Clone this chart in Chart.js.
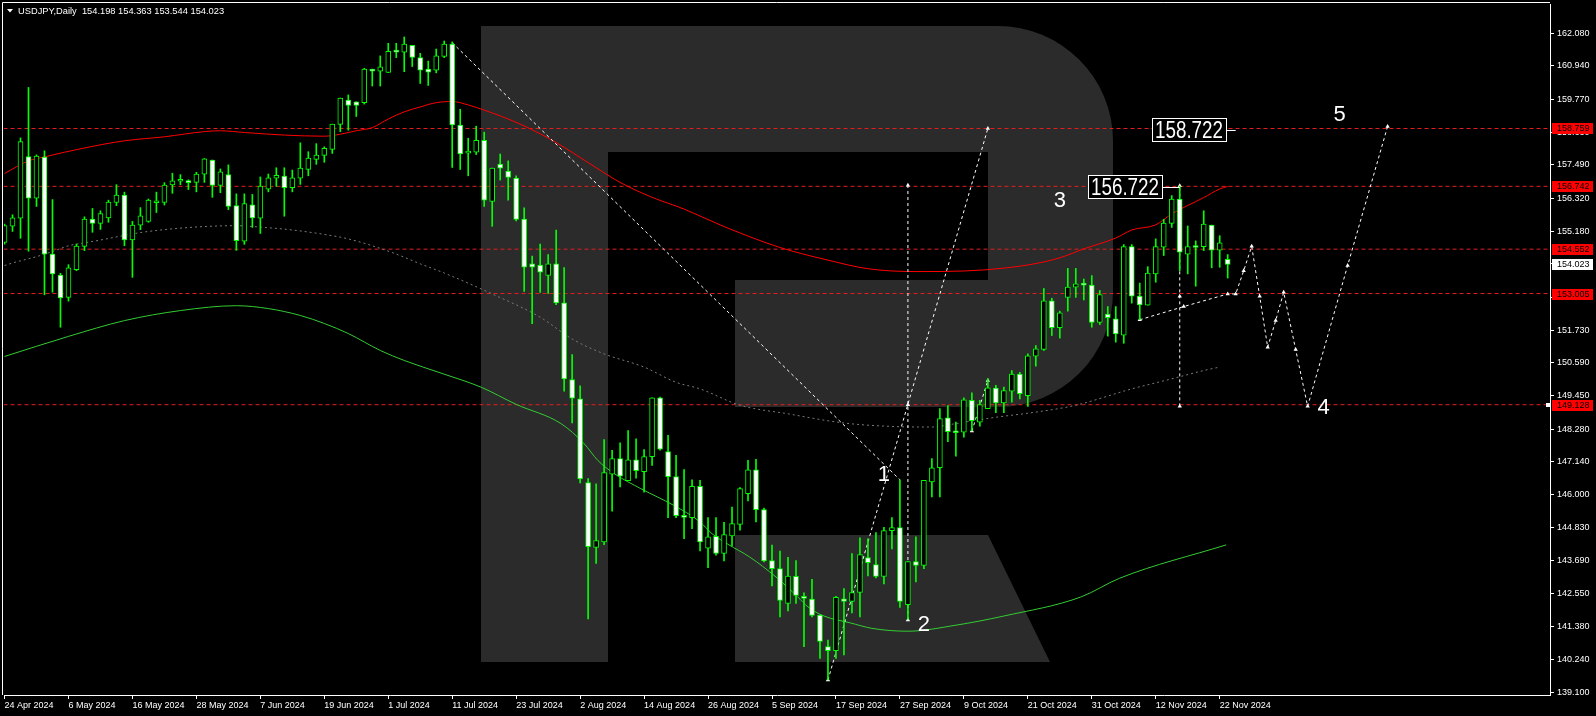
<!DOCTYPE html>
<html>
<head>
<meta charset="utf-8">
<script src="https://cdn.jsdelivr.net/npm/chart.js@4.4.1/dist/chart.umd.min.js"></script>
<style>
html, body { margin: 0; padding: 0; background: #000; overflow: hidden; }
canvas { display: block; }
</style>
</head>
<body>
<canvas id="chart" width="1596" height="716"></canvas>
<script>
// USDJPY daily candles, 24 Apr 2024 .. 25 Nov 2024 (bar index = position)
const opens = [
  154.79, 155.35, 155.63, 157.78, 156.33, 157.76, 154.38, 153.65, 152.87, 153.84,
  154.65, 155.60, 155.45, 155.64, 156.18, 156.44, 154.87, 155.39, 155.52, 156.17,
  156.18, 156.79, 156.92, 156.90, 156.88, 157.17, 157.66, 156.77, 157.15, 156.07,
  154.83, 156.10, 155.63, 156.64, 157.03, 157.10, 156.70, 157.03, 157.33, 157.68,
  157.82, 158.03, 158.90, 159.75, 159.69, 159.66, 160.83, 160.76, 160.71, 161.45,
  161.42, 161.66, 161.23, 160.83, 160.79, 161.27, 161.70, 158.88, 157.90, 157.93,
  158.35, 156.22, 157.52, 157.27, 157.03, 155.60, 154.04, 154.00, 153.64, 154.04,
  152.68, 150.00, 149.33, 146.41, 144.15, 144.34, 146.71, 147.25, 146.48, 147.21,
  146.79, 147.32, 149.37, 147.49, 146.62, 145.26, 145.19, 146.28, 144.13, 144.54,
  143.94, 144.55, 144.95, 146.03, 146.86, 145.47, 143.69, 143.41, 142.20, 143.14,
  142.45, 142.35, 141.79, 140.69, 140.55, 142.36, 142.27, 142.58, 143.80, 143.55,
  143.14, 144.74, 144.84, 142.16, 143.66, 143.52, 146.44, 146.93, 148.67, 148.19,
  148.17, 149.28, 148.52, 148.99, 149.71, 149.19, 149.60, 150.20, 149.44, 150.82,
  151.06, 152.75, 151.81, 152.87, 153.23, 153.33, 153.30, 152.00, 152.29, 152.12,
  151.55, 154.64, 152.92, 152.60, 153.69, 154.62, 155.45, 156.30, 154.38, 154.64,
  154.64, 155.39, 154.52, 154.198
];
const highs = [
  155.43, 155.75, 158.43, 160.19, 157.84, 157.98, 156.28, 153.71, 154.01, 154.73,
  155.68, 155.97, 155.89, 156.26, 156.80, 156.54, 155.52, 156.00, 156.30, 156.54,
  156.87, 157.20, 157.15, 156.97, 157.23, 157.71, 157.66, 157.35, 157.49, 156.48,
  156.48, 156.46, 157.07, 157.17, 157.39, 157.39, 157.31, 158.26, 157.95, 158.23,
  158.12, 158.91, 159.82, 159.93, 159.69, 160.86, 160.83, 161.29, 161.73, 161.73,
  161.95, 161.66, 161.38, 161.11, 161.53, 161.81, 161.78, 159.43, 158.42, 158.84,
  158.63, 157.38, 157.87, 157.63, 157.11, 155.99, 154.31, 154.73, 154.36, 155.22,
  153.91, 150.88, 149.79, 146.55, 146.37, 147.91, 147.54, 147.80, 148.23, 147.94,
  147.56, 149.37, 149.39, 148.06, 147.36, 146.87, 146.51, 146.49, 145.19, 145.19,
  145.03, 145.56, 146.24, 147.19, 147.22, 145.52, 144.23, 144.02, 143.81, 143.69,
  142.57, 143.04, 141.79, 140.92, 142.45, 142.72, 143.94, 144.49, 144.45, 144.67,
  144.85, 145.19, 146.51, 143.66, 144.52, 146.49, 147.25, 148.99, 149.10, 148.52,
  149.37, 149.54, 149.28, 150.03, 149.80, 149.74, 150.32, 150.26, 150.90, 151.19,
  153.18, 152.84, 152.39, 153.88, 153.88, 153.51, 153.63, 153.11, 152.55, 152.55,
  154.71, 154.71, 153.37, 153.94, 154.91, 155.59, 156.42, 156.75, 155.36, 154.84,
  155.89, 155.39, 155.02, 154.363
];
const lows = [
  154.73, 155.17, 154.93, 154.48, 156.04, 152.96, 153.05, 151.83, 152.74, 153.80,
  154.50, 155.14, 155.24, 155.49, 156.07, 154.67, 153.57, 155.23, 155.49, 155.83,
  156.09, 156.50, 156.80, 156.63, 156.55, 156.88, 156.36, 156.52, 155.93, 154.51,
  154.72, 155.31, 155.10, 156.55, 156.74, 155.70, 156.55, 156.81, 157.11, 157.51,
  157.58, 157.89, 158.65, 158.70, 159.18, 159.61, 160.24, 160.24, 160.71, 161.23,
  160.74, 160.92, 160.33, 160.26, 160.70, 161.23, 157.40, 157.33, 157.11, 157.85,
  156.04, 155.35, 156.96, 156.26, 155.54, 153.08, 151.95, 153.04, 153.01, 152.62,
  149.60, 148.49, 146.40, 141.66, 143.59, 144.25, 145.42, 146.26, 146.48, 146.57,
  146.08, 147.01, 147.54, 145.19, 145.19, 144.46, 144.81, 144.03, 143.45, 143.88,
  143.68, 144.20, 144.75, 145.77, 145.04, 143.65, 142.81, 141.73, 141.94, 142.20,
  140.69, 141.73, 140.28, 139.53, 140.28, 140.40, 141.87, 141.73, 143.16, 143.09,
  142.88, 144.10, 142.06, 141.65, 142.95, 143.41, 145.91, 145.91, 147.84, 147.33,
  148.00, 148.21, 148.38, 148.99, 148.85, 148.85, 149.22, 149.33, 149.07, 150.47,
  151.02, 151.54, 151.45, 152.39, 152.87, 152.78, 151.83, 151.92, 151.52, 151.31,
  151.27, 152.67, 152.09, 152.60, 153.40, 154.33, 155.31, 153.80, 153.69, 153.26,
  154.50, 153.90, 153.92, 153.544
];
const closes = [
  155.37, 155.64, 158.30, 156.33, 157.80, 154.38, 153.69, 152.85, 153.90, 154.66,
  155.60, 155.45, 155.79, 156.19, 156.44, 154.87, 155.39, 155.71, 156.26, 156.23,
  156.79, 156.93, 156.96, 156.87, 157.17, 157.70, 156.77, 157.25, 156.04, 154.85,
  156.14, 155.64, 156.75, 157.04, 157.13, 156.70, 157.04, 157.38, 157.73, 157.83,
  158.07, 158.91, 159.82, 159.56, 159.56, 160.83, 160.76, 160.91, 161.45, 161.42,
  161.70, 161.24, 160.79, 160.72, 161.29, 161.70, 158.88, 157.87, 157.95, 158.35,
  156.26, 157.38, 157.38, 157.05, 155.59, 153.92, 153.92, 153.75, 154.04, 152.68,
  150.03, 149.36, 146.54, 144.18, 144.39, 146.76, 147.25, 146.64, 147.21, 146.83,
  147.32, 149.37, 147.58, 146.62, 145.26, 145.20, 146.28, 144.34, 144.52, 143.94,
  144.60, 144.98, 146.20, 146.86, 145.47, 143.68, 143.41, 142.30, 143.15, 142.48,
  142.37, 141.78, 140.87, 140.55, 142.41, 142.27, 142.58, 143.90, 143.62, 143.14,
  144.74, 144.84, 142.27, 143.66, 143.52, 146.49, 146.93, 148.64, 148.19, 148.15,
  149.30, 148.57, 149.13, 149.72, 149.19, 149.62, 150.20, 149.51, 150.83, 151.08,
  152.75, 151.81, 152.33, 153.23, 153.34, 153.30, 152.00, 152.97, 152.16, 151.60,
  154.64, 152.91, 152.61, 153.72, 154.64, 155.46, 156.30, 154.45, 154.64, 154.61,
  155.43, 154.52, 154.77, 154.023
];

// time axis: a label every 8 bars
const dateTicks = [
  '24 Apr 2024', '6 May 2024', '16 May 2024', '28 May 2024', '7 Jun 2024',
  '19 Jun 2024', '1 Jul 2024', '11 Jul 2024', '23 Jul 2024', '2 Aug 2024',
  '14 Aug 2024', '26 Aug 2024', '5 Sep 2024', '17 Sep 2024', '27 Sep 2024',
  '9 Oct 2024', '21 Oct 2024', '31 Oct 2024', '12 Nov 2024', '22 Nov 2024'
];
const tickStep = 8;
const priceTicks = [
  139.100, 140.240, 141.380, 142.550, 143.690, 144.830, 146.000, 147.140, 148.280,
  149.450, 150.590, 151.730, 152.870, 154.040, 155.180, 156.320, 157.490, 158.630,
  159.770, 160.940, 162.080
];
const levels = [158.759, 156.742, 154.552, 153.005, 149.128];
const lastPrice = 154.023;

// moving averages, [bar, price]
const maRed = [
  [0,157.19],[3,157.63],[5,157.77],[10,158.08],[15,158.33],[20,158.47],[25,158.65],[27,158.68],
  [30,158.62],[35,158.53],[40,158.49],[42,158.56],[44,158.68],[46,158.79],[48,159.09],[50,159.34],
  [52,159.51],[54,159.66],[56,159.70],[58,159.58],[60,159.40],[62,159.20],[65,158.85],[69,158.27],
  [73,157.57],[77,156.88],[81,156.36],[85,155.95],[90,155.34],[97,154.61],[103,154.17],[108,153.87],
  [114,153.77],[120,153.79],[125,153.89],[129,154.05],[132,154.25],[135,154.56],[139,154.94],
  [141,155.22],[144,155.40],[146,155.78],[150,156.35],[152,156.65],[153,156.74]
];
const maGray = [
  [0,153.98],[1,154.07],[4,154.29],[6,154.47],[8,154.67],[10,154.77],[12,154.87],[17,155.13],
  [21,155.26],[25,155.34],[29,155.37],[32,155.32],[36,155.22],[41,155.02],[43,154.91],[46,154.67],
  [49,154.38],[52,154.04],[55,153.72],[61,152.99],[67,152.18],[71,151.42],[75,150.90],[80,150.44],
  [84,149.91],[87,149.68],[92,149.11],[98,148.81],[105,148.49],[111,148.37],[116,148.35],
  [119,148.47],[124,148.69],[129,148.87],[134,149.11],[141,149.68],[146,150.03],[150,150.32],
  [152,150.44]
];
const maGreen = [
  [0,150.81],[8,151.51],[15,152.06],[22,152.41],[29,152.58],[33,152.48],[37,152.24],[40,151.96],
  [43,151.61],[47,151.02],[50,150.67],[54.6,150.23],[59.6,149.74],[64,149.14],[69.6,148.47],
  [72.5,147.77],[74.2,147.19],[76.3,146.72],[79.6,146.20],[83.7,145.62],[87,145.04],[88.5,144.63],
  [90.5,144.26],[93.2,143.82],[96.5,143.12],[99.2,142.43],[100.5,142.08],[102.5,141.76],
  [105.8,141.52],[108.5,141.33],[113,141.23],[119,141.44],[125,141.76],[134.6,142.42],
  [139.5,143.08],[152.8,144.24]
];

// hand drawn wave lines, [bar, price]
const waveDown = [[56,161.75],[112,146.51]];
const waveUp = [[103,139.53],[123,158.76]];
const waveProj1 = [[113,141.62],[113,149.13],[113,156.78]];
const waveSmall = [[121,148.21],[123,149.97]];
const waveProj2 = [[147,149.07],[147,152.91],[147,156.76]];
const waveForecast = [
  [142,152.09],[147.5,152.55],[153,152.99],[154,152.99],[155,153.80],[156,154.65],[157,152.91],
  [158,151.13],[159,152.06],[160,153.05],[161.5,151.05],[163,149.07],[168,153.98],[173,158.83]
];
const waveLabels = [['1',110,146.67],['2',115,141.44],['3',132,156.24],['4',165,149.02],['5',167,159.23]];
const targetBoxes = [[156.722,144.8,147],[158.722,152.8,154]];

const FONT = '"Liberation Sans", Arial, sans-serif';
const idx = opens.map((_, i) => i);

const pts = arr => arr.map(p => ({ x: p[0], y: p[1] }));
function lineSet(arr, color, dash, extra) {
  return Object.assign({
    type: 'line', data: pts(arr), borderColor: color, borderWidth: 1, borderDash: dash,
    pointRadius: 0, fill: false, tension: 0, order: 5
  }, extra || {});
}
function waveSet(arr, markers) {
  return lineSet(arr, '#ffffff', [3, 3], {
    order: 4, pointRadius: markers ? 2.5 : 0, pointStyle: 'triangle',
    pointBackgroundColor: '#ffffff', pointBorderColor: '#ffffff', pointBorderWidth: 0
  });
}
// keep the plot area where the terminal puts it: no extra room for edge labels
function noPad(s) {
  s.paddingLeft = 0; s.paddingRight = 0; s.paddingTop = 0; s.paddingBottom = 0;
}

const logo = {
  id: 'logo',
  beforeDraw(chart) {
    const c = chart.ctx;
    c.save();
    c.fillStyle = '#000';
    c.fillRect(0, 0, chart.width, chart.height);
    c.fillStyle = '#2b2b2b';
    c.fillRect(481, 26, 127, 636);
    c.beginPath();
    c.moveTo(608, 26);
    c.lineTo(998, 26);
    c.arcTo(1113, 26, 1113, 141, 115);
    c.lineTo(1113, 292);
    c.arcTo(1113, 407, 998, 407, 115);
    c.lineTo(735, 407);
    c.lineTo(735, 280);
    c.lineTo(988, 280);
    c.lineTo(988, 152);
    c.lineTo(608, 152);
    c.closePath();
    c.fill();
    c.beginPath();
    c.moveTo(735, 535);
    c.lineTo(988, 535);
    c.lineTo(1050, 662);
    c.lineTo(735, 662);
    c.closePath();
    c.fill();
    c.restore();
  }
};

const overlay = {
  id: 'overlay',
  afterDatasetsDraw(chart) {
    const c = chart.ctx, xs = chart.scales.x, ys = chart.scales.y;
    c.save();
    c.fillStyle = '#ffffff';
    c.textAlign = 'center';
    c.textBaseline = 'middle';
    c.font = '22px ' + FONT;
    waveLabels.forEach(([t, i, p]) => c.fillText(t, xs.getPixelForValue(i), ys.getPixelForValue(p)));

    c.font = '24px ' + FONT;
    targetBoxes.forEach(([p, iRight, iMark]) => {
      const y = Math.round(ys.getPixelForValue(p));
      const xr = Math.round(xs.getPixelForValue(iRight));
      const t = p.toFixed(3);
      const w = 74;
      c.fillStyle = '#000';
      c.fillRect(xr - w, y - 12, w, 24);
      c.strokeStyle = '#ffffff';
      c.lineWidth = 1;
      c.strokeRect(xr - w + 0.5, y - 11.5, w, 23);
      c.fillStyle = '#ffffff';
      c.save();
      c.translate(xr - 3, y + 1);
      c.scale(68 / c.measureText(t).width, 1);
      c.textAlign = 'right';
      c.fillText(t, 0, 0);
      c.restore();
      c.beginPath();
      c.moveTo(xr, y + 0.5);
      c.lineTo(xs.getPixelForValue(iMark), y + 0.5);
      c.stroke();
    });
    c.restore();
  },
  afterDraw(chart) {
    const c = chart.ctx, ys = chart.scales.y, a = chart.chartArea;
    c.save();
    c.strokeStyle = '#ffffff';
    c.lineWidth = 1;
    c.beginPath();
    c.moveTo(2.5, a.bottom);
    c.lineTo(2.5, 2.5);
    c.lineTo(a.right, 2.5);
    c.stroke();

    c.font = '9px ' + FONT;
    c.textAlign = 'left';
    c.textBaseline = 'middle';
    const tag = (p, bg) => {
      const y = Math.round(ys.getPixelForValue(p));
      c.fillStyle = bg;
      c.fillRect(a.right + 2, y - 5, 41, 11);
      c.fillStyle = '#000';
      c.fillText(p.toFixed(3), a.right + 7, y + 0.5);
    };
    levels.forEach(p => tag(p, '#ff0000'));
    tag(lastPrice, '#ffffff');
    c.fillStyle = '#ffffff';
    c.fillRect(a.right - 4, Math.round(ys.getPixelForValue(levels[4])) - 2, 4, 4);

    c.beginPath();
    c.moveTo(7, 9);
    c.lineTo(13, 9);
    c.lineTo(10, 12.5);
    c.closePath();
    c.fill();
    c.font = '9.3px ' + FONT;
    const n = opens.length - 1;
    c.fillText('USDJPY,Daily  ' + [opens[n], highs[n], lows[n], closes[n]].map(v => v.toFixed(3)).join(' '), 18, 11);
    c.restore();
  }
};

new Chart(document.getElementById('chart'), {
  type: 'bar',
  data: {
    datasets: [
      {
        type: 'bar', data: idx.map(i => ({ x: i, y: [opens[i], closes[i]] })),
        backgroundColor: idx.map(i => closes[i] >= opens[i] ? '#000000' : '#ffffff'),
        borderColor: '#00ff00', borderWidth: 1, borderSkipped: false,
        barThickness: 5, minBarLength: 2, grouped: false, order: 0
      },
      {
        type: 'bar', data: idx.map(i => ({ x: i, y: [lows[i], highs[i]] })),
        backgroundColor: '#00ff00', borderWidth: 0, barThickness: 1, grouped: false, order: 1
      },
      waveSet(waveDown, false),
      waveSet(waveUp, true),
      waveSet(waveProj1, true),
      waveSet(waveSmall, true),
      waveSet(waveProj2, true),
      waveSet(waveForecast, true),
      ...levels.map(p => lineSet([[-1, p], [200, p]], '#e41e1e', [4, 3], { order: 6 })),
      lineSet(maRed, '#ff0000', [], { cubicInterpolationMode: 'monotone' }),
      lineSet(maGray, '#7a7a7a', [2, 3], { cubicInterpolationMode: 'monotone' }),
      lineSet(maGreen, '#32cd32', [], { cubicInterpolationMode: 'monotone' })
    ]
  },
  options: {
    responsive: false,
    devicePixelRatio: 1,
    animation: false,
    events: [],
    layout: { padding: { left: 3, top: 3, right: 0, bottom: 0 } },
    plugins: { legend: { display: false }, tooltip: { enabled: false } },
    scales: {
      x: {
        type: 'linear', min: -0.0625, max: 193.3125, offset: false,
        afterBuildTicks: s => { s.ticks = dateTicks.map((_, k) => ({ value: k * tickStep })); },
        afterFit: s => { s.height = 21; noPad(s); },
        ticks: {
          color: '#ffffff', font: { family: FONT, size: 9 }, align: 'start',
          maxRotation: 0, autoSkip: false, padding: 1,
          callback: (v, k) => dateTicks[k]
        },
        grid: { display: true, drawOnChartArea: false, drawTicks: true, tickLength: 4, color: '#ffffff', offset: false },
        border: { display: true, color: '#ffffff' }
      },
      y: {
        position: 'right', min: 139.006, max: 163.100,
        afterBuildTicks: s => { s.ticks = priceTicks.map(v => ({ value: v })); },
        afterFit: s => { s.width = 46; noPad(s); },
        ticks: {
          color: '#ffffff', font: { family: FONT, size: 9 }, padding: 3,
          callback: v => v.toFixed(3)
        },
        grid: { display: true, drawOnChartArea: false, drawTicks: true, tickLength: 4, color: '#ffffff' },
        border: { display: true, color: '#ffffff' }
      }
    }
  },
  plugins: [logo, overlay]
});
</script>
</body>
</html>
